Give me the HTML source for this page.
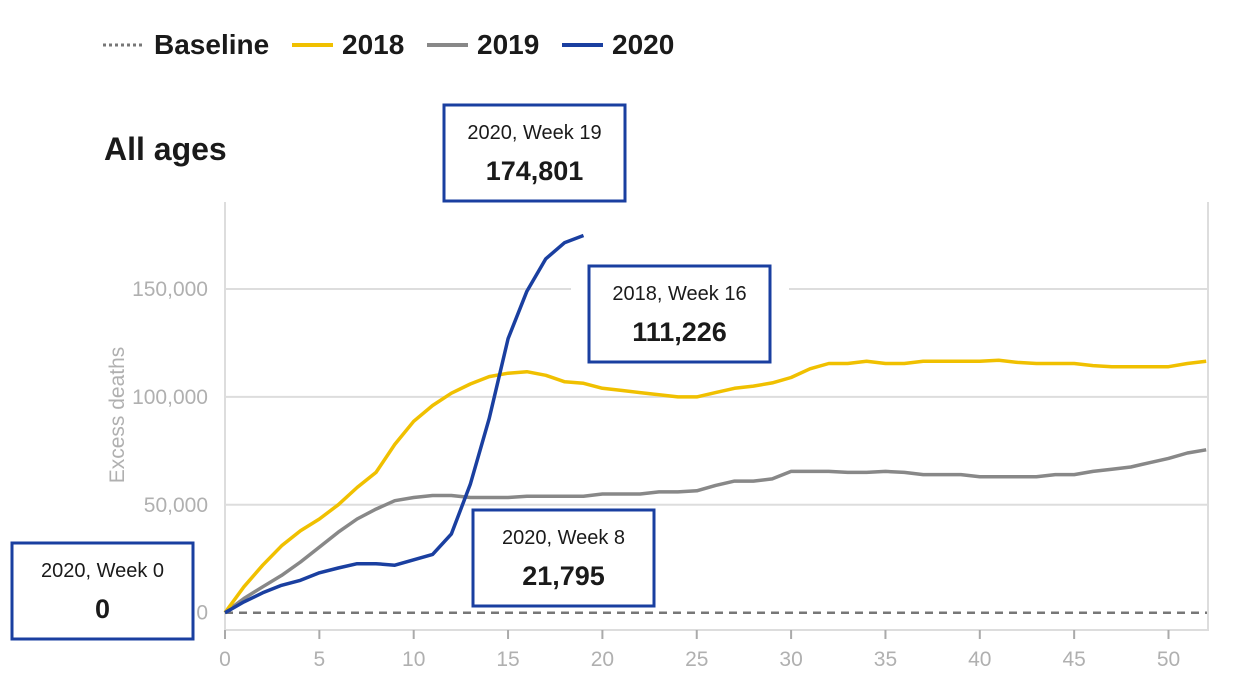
<!DOCTYPE html>
<html><head><meta charset="utf-8"><style>
html,body{margin:0;padding:0;background:#fff;}
body{width:1248px;height:678px;overflow:hidden;font-family:"Liberation Sans",sans-serif;}
</style></head><body>
<svg id="chart" width="1248" height="678" xmlns="http://www.w3.org/2000/svg" font-family="Liberation Sans, sans-serif">
  <g>
    <g><line x1="103" y1="45" x2="145" y2="45" stroke="#777" stroke-width="3" stroke-dasharray="3,3"/><text x="154" y="54" font-size="28" font-weight="bold" fill="#1a1a1a">Baseline</text></g>
    <g><line x1="292" y1="45" x2="333" y2="45" stroke="#f0c000" stroke-width="4"/><text x="342" y="54" font-size="28" font-weight="bold" fill="#1a1a1a">2018</text></g>
    <g><line x1="427" y1="45" x2="468" y2="45" stroke="#888" stroke-width="4"/><text x="477" y="54" font-size="28" font-weight="bold" fill="#1a1a1a">2019</text></g>
    <g><line x1="562" y1="45" x2="603" y2="45" stroke="#1a3fa0" stroke-width="4"/><text x="612" y="54" font-size="28" font-weight="bold" fill="#1a1a1a">2020</text></g>
  </g>
  <text x="104" y="160" font-size="32" font-weight="bold" fill="#1a1a1a">All ages</text>
  <text transform="translate(124,415) rotate(-90)" text-anchor="middle" font-size="21" fill="#b0b0b0">Excess deaths</text>
  <g id="grid"></g>
  <g id="backs"></g>
  <g id="axes"></g>
  <g id="series"></g>
  <g id="annotations"></g>
</svg>
<script>
const weeks = Array.from({length:53},(_,i)=>i);
const xTicks = [0,5,10,15,20,25,30,35,40,45,50];
const yTicks = [0,50000,100000,150000];
const yTickLabels = ["0","50,000","100,000","150,000"];
const s2018 = [0,12000,22000,31000,38000,43400,50000,58000,65000,78000,88700,96000,101700,106000,109400,111000,111700,110000,107000,106300,104000,103000,102000,101000,100000,100000,102000,104000,105000,106500,109000,113000,115500,115500,116500,115500,115500,116500,116500,116500,116500,117000,116000,115500,115500,115500,114500,114000,114000,114000,114000,115500,116500];
const s2019 = [0,6600,12000,17300,23500,30400,37300,43400,48000,51900,53400,54300,54300,53400,53400,53400,54000,54000,54000,54000,55000,55000,55000,56000,56000,56500,59000,61000,61000,62000,65500,65500,65500,65000,65000,65500,65000,64000,64000,64000,63000,63000,63000,63000,64000,64000,65500,66500,67500,69500,71500,74000,75500];
const s2020 = [0,5000,9200,12700,15000,18500,20700,22700,22700,22000,24500,27000,36500,59500,90000,127000,149000,164000,171500,174801];
const annotations = [
  {name:"annotation-2020-week-19", label:"2020, Week 19", value:"174,801", x:444, y:105, back:false},
  {name:"annotation-2018-week-16", label:"2018, Week 16", value:"111,226", x:589, y:266, back:true},
  {name:"annotation-2020-week-8", label:"2020, Week 8", value:"21,795", x:473, y:510, back:false},
  {name:"annotation-2020-week-0", label:"2020, Week 0", value:"0", x:12, y:543, back:false}
];
const NS="http://www.w3.org/2000/svg";
const X0=225, XW=18.87, Y0=612.7, YK=107.9/50000;
const sx=w=>X0+w*XW, sy=v=>Y0-v*YK;
function mk(tag,attrs,parent){const e=document.createElementNS(NS,tag);for(const k in attrs)e.setAttribute(k,attrs[k]);parent.appendChild(e);return e;}
const grid=document.getElementById('grid'),backs=document.getElementById('backs'),axes=document.getElementById('axes'),ser=document.getElementById('series'),ann=document.getElementById('annotations');
yTicks.forEach((t,i)=>{
  if(t>0){const g=mk('line',{x1:X0,x2:1208,y1:sy(t),y2:sy(t),stroke:'#ddd','stroke-width':2},grid);
  
  }
  const tx=mk('text',{x:208,y:sy(t)+7,'text-anchor':'end','font-size':21,fill:'#b0b0b0'},axes);
  tx.textContent=yTickLabels[i];
  
  
});
const fr=mk('path',{d:'M'+X0+',202V630H1208V202',fill:'none',stroke:'#ddd','stroke-width':2},axes);


xTicks.forEach(t=>{
  const l=mk('line',{x1:sx(t),x2:sx(t),y1:630,y2:639,stroke:'#aaa','stroke-width':2},axes);
  
  
  const tx=mk('text',{x:sx(t),y:666,'text-anchor':'middle','font-size':21,fill:'#b0b0b0'},axes);
  tx.textContent=t;
  
  
});
const base=mk('line',{x1:X0,x2:1207,y1:sy(0),y2:sy(0),stroke:'#777','stroke-width':2.5,'stroke-dasharray':'8,6'},ser);


function line(data,color,name){
  const d=data.map((v,i)=>(i?'L':'M')+sx(weeks[i]).toFixed(1)+','+sy(v).toFixed(1)).join('');
  const p=mk('path',{d:d,fill:'none',stroke:color,'stroke-width':3.5,'stroke-linejoin':'round'},ser);
  
  
}
line(s2019,'#888','line-2019');
line(s2018,'#f0c000','line-2018');
line(s2020,'#1a3fa0','line-2020');
annotations.forEach(a=>{
  if(a.back) mk('rect',{x:a.x-18,y:a.y-8,width:218,height:104,fill:'#fff'},backs);
  const g=mk('g',{},ann);
  
  
  mk('rect',{x:a.x,y:a.y,width:181,height:96,fill:'#fff',stroke:'#1a3fa0','stroke-width':3},g);
  const t1=mk('text',{x:a.x+90.5,y:a.y+34,'text-anchor':'middle','font-size':20,fill:'#1a1a1a'},g);t1.textContent=a.label;
  const t2=mk('text',{x:a.x+90.5,y:a.y+75,'text-anchor':'middle','font-size':27,'font-weight':'bold',fill:'#1a1a1a'},g);t2.textContent=a.value;
});
</script>
</body></html>
